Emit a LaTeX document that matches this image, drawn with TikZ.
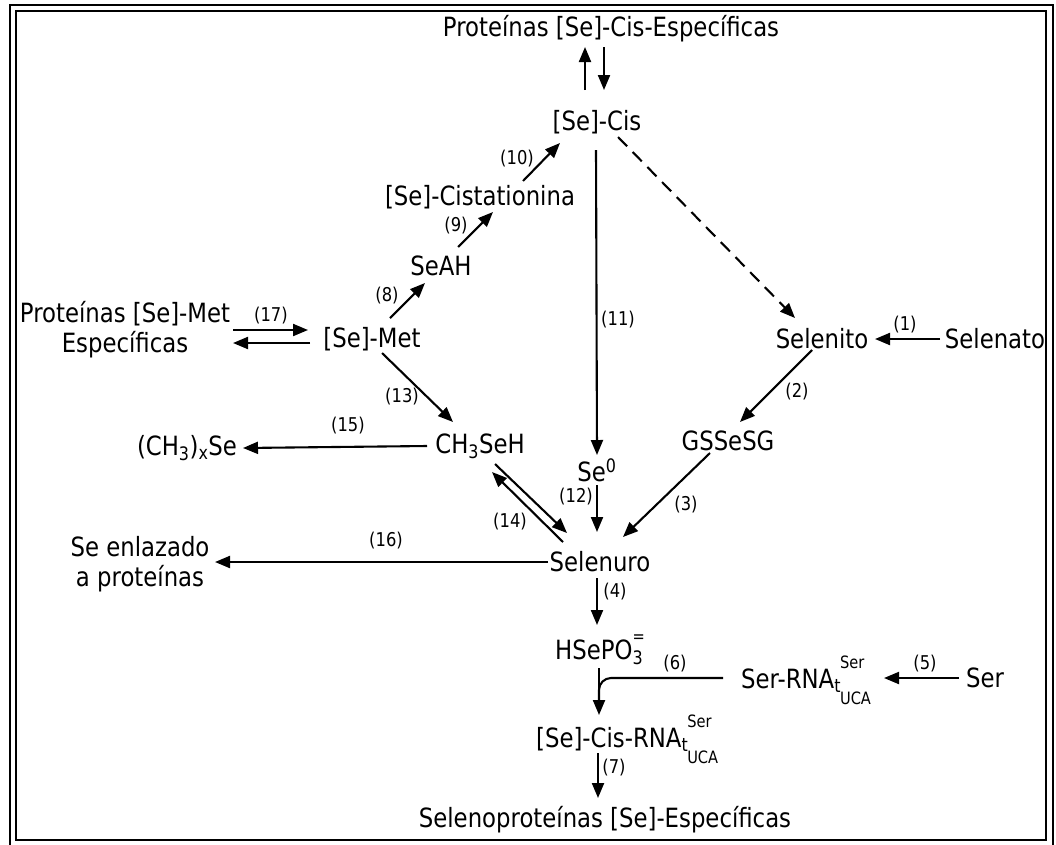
\documentclass[tikz,border=0pt]{standalone}
\usepackage{fontspec}
\setmainfont{DejaVu Sans}[FakeStretch=0.86]
\usetikzlibrary{arrows.meta}

\newcommand{\mainsize}{\fontsize{26.5}{30}\selectfont}
\newcommand{\stepsize}{\fontsize{19}{21}\selectfont}
\newcommand{\smallsize}{\fontsize{17}{17}\selectfont}
\newcommand{\rnatuca}{RNA\textsubscript{t}\kern-1pt\rlap{\raisebox{20pt}{\smallsize Ser}}\raisebox{-16pt}{\smallsize UCA}}

\begin{document}
\begin{tikzpicture}[
  x=1pt, y=-1pt,
  comp/.style={font=\mainsize,inner sep=3pt},
  num/.style={font=\stepsize,inner sep=1pt},
  rx/.style={-{Triangle[length=15pt,width=12pt]},line width=2.1pt},
  dashrx/.style={rx,dash pattern=on 13pt off 8pt}
]
  \useasboundingbox (0,0) rectangle (1056,844);
  \draw[line width=1.8pt] (10,5) rectangle (1053,847);
  \draw[line width=1.2pt] (16,11) rectangle (1046,840);

  % compuestos
  \node[comp] (cisprot) at (611,29) {Proteínas [Se]-Cis-Específicas};
  \node[comp] (secis) at (597,122) {[Se]-Cis};
  \node[comp] (cista) at (480,197) {[Se]-Cistationina};
  \node[comp] (seah) at (441,266) {SeAH};
  \node[comp] (semet) at (372,339) {[Se]-Met};
  \node[comp,align=center] (metprot) at (125,330) {Proteínas [Se]-Met\\Específicas};
  \node[comp] (mesh) at (480,446) {CH\textsubscript{3}SeH};
  \node[comp] (dimet) at (187,448) {(CH\textsubscript{3})\textsubscript{x}Se};
  \node[comp] (sezero) at (597,470) {Se\textsuperscript{0}};
  \node[comp] (selenuro) at (600,562) {Selenuro};
  \node[comp,align=center] (bound) at (140,564) {Se enlazado\\a proteínas};
  \node[comp] (gssesg) at (728,441) {GSSeSG};
  \node[comp] (selenito) at (822,339) {Selenito};
  \node[comp] (selenato) at (995,339) {Selenato};
  \node[comp] (hsepo) at (600,650) {HSePO\rlap{\textsubscript{3}}\raisebox{17pt}{\smallsize =}};
  \node[comp,anchor=base west] (serrna) at (738,688) {Ser-\rnatuca};
  \node[comp] (ser) at (985,678) {Ser};
  \node[comp,anchor=base west] (cisrna) at (533,747) {[Se]-Cis-\rnatuca};
  \node[comp] (selprot) at (605,820) {Selenoproteínas [Se]-Específicas};

  % reacciones
  \draw[rx] ([shift={(-12,-32)}]secis.center) -- ([shift={(-26,18)}]cisprot.center);
  \draw[rx] ([shift={(-7,18)}]cisprot.center) -- ([shift={(7,-32)}]secis.center);
  \draw[rx] ([shift={(43,-16)}]cista.center) -- ([shift={(-37,21)}]secis.center);
  \draw[rx] ([shift={(17,-19)}]seah.center) -- ([shift={(13,15)}]cista.center);
  \draw[rx] ([shift={(18,-21)}]semet.center) -- ([shift={(-16,17)}]seah.center);
  \draw[rx] ([shift={(108,0)}]metprot.center) -- ([shift={(-64,-9)}]semet.center);
  \draw[rx] ([shift={(-62,4)}]semet.center) -- ([shift={(108,13)}]metprot.center);
  \draw[rx] ([shift={(10,14)}]semet.center) -- ([shift={(-27,-24)}]mesh.center);
  \draw[rx] ([shift={(-53,0)}]mesh.center) -- ([shift={(56,0)}]dimet.center);
  \draw[rx] ([shift={(-1,28)}]secis.center) -- ([shift={(0,-15)}]sezero.center);
  \draw[dashrx] ([shift={(21,15)}]secis.center) -- ([shift={(-27,-21)}]selenito.center);
  \draw[rx] ([shift={(-55,0)}]selenato.center) -- ([shift={(53,0)}]selenito.center);
  \draw[rx] ([shift={(-10,11)}]selenito.center) -- ([shift={(12,-19)}]gssesg.center);
  \draw[rx] ([shift={(-18,12)}]gssesg.center) -- ([shift={(23,-25)}]selenuro.center);
  \draw[rx] ([shift={(0,15)}]sezero.center) -- ([shift={(-3,-30)}]selenuro.center);
  \draw[rx] ([shift={(15,18)}]mesh.center) -- ([shift={(-33,-29)}]selenuro.center);
  \draw[rx] ([shift={(-37,-20)}]selenuro.center) -- ([shift={(12,26)}]mesh.center);
  \draw[rx] ([shift={(-52,0)}]selenuro.center) -- ([shift={(75,-2)}]bound.center);
  \draw[rx] ([shift={(-3,16)}]selenuro.center) -- ([shift={(-3,-25)}]hsepo.center);
  \draw[rx] ([shift={(-1,18)}]hsepo.center) -- ([shift={(66,-32)}]cisrna.base west);
  \draw[line width=2.1pt,rounded corners=12pt] ([shift={(-15,-10)}]serrna.base west)
    -- ([shift={(66,-69)}]cisrna.base west) -- ([shift={(66,-42)}]cisrna.base west);
  \draw[rx] ([shift={(-26,0)}]ser.center) -- ([shift={(146,-10)}]serrna.base west);
  \draw[rx] ([shift={(65,6)}]cisrna.base west) -- ([shift={(-7,-22)}]selprot.center);

  % numeros de reaccion
  \node[num] (s1) at (905,325) {(1)};
  \node[num] (s2) at (797,392) {(2)};
  \node[num] (s3) at (686,505) {(3)};
  \node[num] (s4) at (615,592) {(4)};
  \node[num] (s5) at (925,664) {(5)};
  \node[num] (s6) at (675,664) {(6)};
  \node[num] (s7) at (614,768) {(7)};
  \node[num] (s8) at (387,296) {(8)};
  \node[num] (s9) at (456,226) {(9)};
  \node[num] (s10) at (517,159) {(10)};
  \node[num] (s11) at (618,320) {(11)};
  \node[num] (s12) at (576,497) {(12)};
  \node[num] (s13) at (402,397) {(13)};
  \node[num] (s14) at (510,522) {(14)};
  \node[num] (s15) at (348,426) {(15)};
  \node[num] (s16) at (386,541) {(16)};
  \node[num] (s17) at (271,316) {(17)};
\end{tikzpicture}
\end{document}
